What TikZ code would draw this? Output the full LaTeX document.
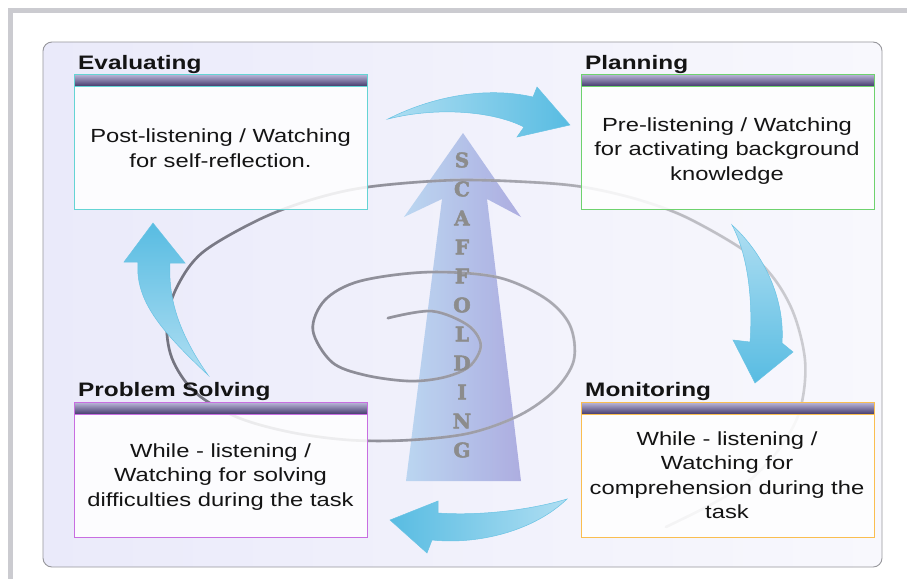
\documentclass[tikz,border=0pt]{standalone}
\usepackage{fontspec}
\setmainfont{Liberation Sans}[FakeStretch=1.25]
\newfontfamily\scaffont{DejaVu Serif}[BoldFeatures={FakeBold=2.5}]
\usetikzlibrary{fadings}
\definecolor{frameGray}{RGB}{203,203,208}
\definecolor{panelA}{RGB}{234,234,250}
\definecolor{panelB}{RGB}{248,248,253}
\definecolor{panelLine}{RGB}{150,150,155}
\definecolor{hdrTop}{RGB}{190,186,220}
\definecolor{hdrMid}{RGB}{120,110,160}
\definecolor{hdrBot}{RGB}{70,60,110}
\definecolor{cEval}{RGB}{100,212,212}
\definecolor{cPlan}{RGB}{110,210,110}
\definecolor{cProb}{RGB}{200,110,225}
\definecolor{cMon}{RGB}{250,190,80}
\definecolor{blueLight}{RGB}{175,222,242}
\definecolor{blueDark}{RGB}{88,188,226}
\definecolor{blueEdge}{RGB}{105,195,228}
\definecolor{scafL}{RGB}{182,212,240}
\definecolor{scafR}{RGB}{166,166,222}
\definecolor{spiralDark}{RGB}{115,115,128}
\definecolor{spiralLight}{RGB}{205,205,210}
\definecolor{letterGray}{RGB}{140,140,140}
\tikzfading[name=fadeRight, left color=transparent!0, right color=transparent!100]
\tikzset{
  boxbody/.style={fill=white, fill opacity=0.85, text opacity=1, inner sep=0pt,
    minimum width=293pt, minimum height=135pt, anchor=north west},
  boxtext/.style={align=center, font=\fontsize{19}{24.5}\selectfont, text=black!92},
  boxtitle/.style={anchor=base west, inner sep=0pt, font=\fontsize{19.5}{22}\selectfont\bfseries, text=black!92},
  blockarrow/.style={draw=blueEdge, line width=0.5pt},
  spiral/.style={line width=2.6pt, line cap=round},
  scafletter/.style={font=\scaffont\bfseries\fontsize{20}{21}\selectfont, text=letterGray, inner sep=0pt}
}
\begin{document}
\begin{tikzpicture}[x=1pt,y=-1pt]
\useasboundingbox (0,0) rectangle (907,579);
\fill[white] (0,0) rectangle (907,579);
% outer frame stripes
\fill[frameGray] (8,8) rectangle (907,13);
\fill[frameGray] (8,8) rectangle (13,579);
% panel
\shade[left color=panelA, right color=panelB, draw=panelLine, line width=0.9pt, rounded corners=9pt]
  (43,42) rectangle (882,567);
% scaffolding arrow
\shade[left color=scafL, right color=scafR, fill opacity=0.9]
  (463,133) -- (521,217) -- (487,199) -- (521,481) -- (406,481) -- (442,199) -- (404,217) -- cycle;
% spiral
\def\spiralpath{plot[smooth, tension=0.55] coordinates {
 (388,318) (432,311) (468,325) (481,345) (470,366) (445,377) (410,381) (365,375)
 (332,362) (313,330) (325,300) (360,281) (428,272) (497,277) (545,298) (570,325)
 (574,360) (555,390) (520,415) (470,433) (410,440) (350,440) (290,432) (237,417)
 (195,392) (172,358) (167,320) (178,285) (203,252) (258,220) (310,200) (367,187)
 (453,180) (530,182) (584,187) (640,200) (692,220) (757,260) (790,305) (805,360)
 (800,410) (780,448) (750,480) (714,503) (666,527)}}
\draw[spiral, spiralLight] \spiralpath;
\draw[spiral, spiralDark, path fading=fadeRight] \spiralpath;
% letters
\foreach \ch [count=\i from 0] in {S,C,A,F,F,O,L,D,I,N,G}
  \node[scafletter] (scaf\i) at (462,{160+29*\i}) {\ch};
% block arrows
\shade[blockarrow, left color=blueLight, right color=blueDark]
  (388,119) .. controls (425,100) and (480,85) .. (533,97) -- (537,87) -- (570,125)
  -- (517,137) -- (524,127) .. controls (495,112) and (440,106) .. (388,119) -- cycle;
\shade[blockarrow, top color=blueLight, bottom color=blueDark]
  (732,225) .. controls (765,255) and (785,300) .. (782,343) -- (793,352) -- (755,383)
  -- (733,340) -- (750,342) .. controls (753,300) and (748,255) .. (732,225) -- cycle;
\shade[blockarrow, right color=blueLight, left color=blueDark]
  (567,499) .. controls (530,510) and (480,516) .. (438,513) -- (438,501) -- (390,520)
  -- (427,553) -- (432,540) .. controls (480,545) and (535,530) .. (567,499) -- cycle;
\shade[blockarrow, bottom color=blueLight, top color=blueDark]
  (208,375) .. controls (160,330) and (135,300) .. (138,262) -- (124,262) -- (153,223)
  -- (185,263) -- (170,263) .. controls (168,300) and (180,335) .. (208,375) -- cycle;
% boxes
\foreach \nm/\x/\y/\col in {evalbox/74/74/cEval, planbox/581/74/cPlan, probbox/74/402/cProb, monbox/581/402/cMon}{
  \node[boxbody] (\nm) at (\x,\y) {};
  \shade[top color=hdrTop, middle color=hdrMid, bottom color=hdrBot] (\nm.north west) rectangle ([yshift=-12pt]\nm.north east);
  \draw[\col, line width=0.9pt] (\nm.north west) rectangle (\nm.south east);
  \draw[\col, line width=0.7pt] ([yshift=-12pt]\nm.north west) -- ([yshift=-12pt]\nm.north east);
}
% titles
\node[boxtitle] (evaltitle) at (78,69) {Evaluating};
\node[boxtitle] (plantitle) at (585,69) {Planning};
\node[boxtitle] (probtitle) at (78,396) {Problem Solving};
\node[boxtitle] (montitle) at (585,396) {Monitoring};
% texts
\node[boxtext] (evaltext) at (220.5,148) {Post-listening / Watching\\for self-reflection.};
\node[boxtext] (plantext) at (727,151) {Pre-listening / Watching\\for activating background\\knowledge};
\node[boxtext] (probtext) at (220.5,477) {While - listening /\\Watching for solving\\difficulties during the task};
\node[boxtext] (montext) at (727,475) {While - listening /\\Watching for\\comprehension during the\\task};
\end{tikzpicture}
\end{document}
